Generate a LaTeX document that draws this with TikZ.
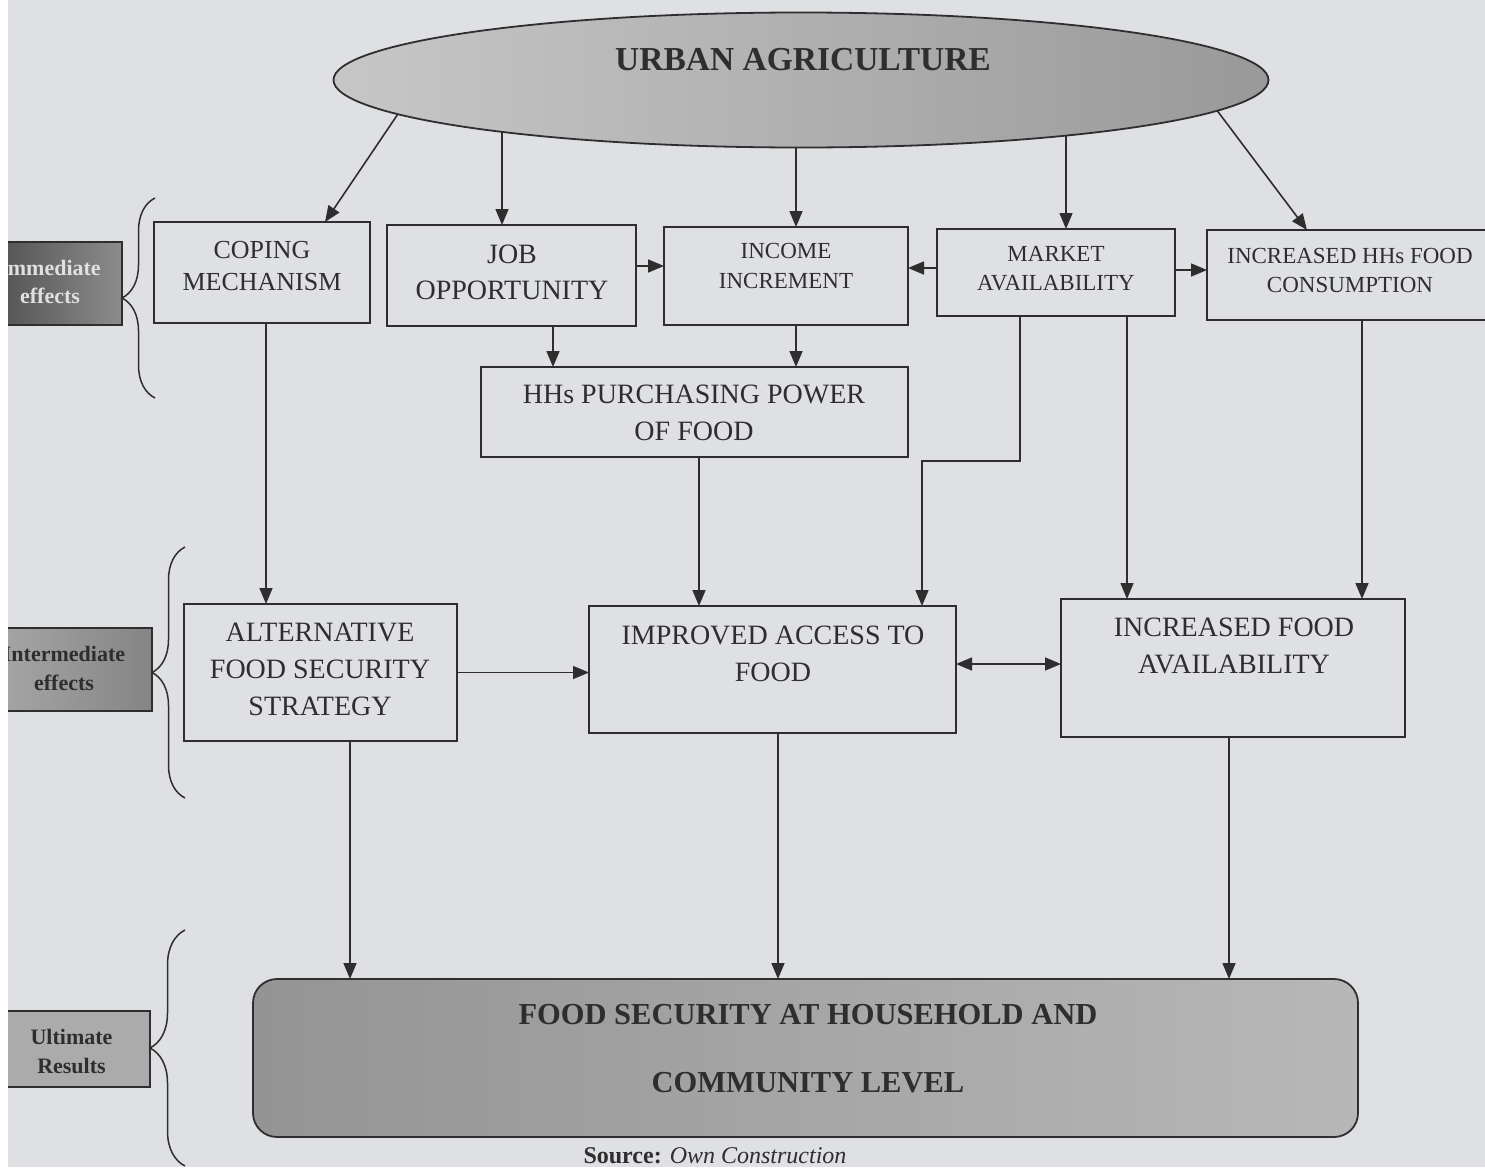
\documentclass[tikz,border=0pt]{standalone}
\usepackage{fontspec}
\setmainfont{Liberation Serif}
\usetikzlibrary{arrows.meta,decorations.pathreplacing,shapes.geometric,calc}
\definecolor{bg}{HTML}{DFE0E4}
\definecolor{ink}{HTML}{2E2E2E}
\newcommand{\fsz}[2]{\fontsize{#1}{#2}\selectfont}
\tikzset{
 box/.style={draw=ink, line width=1.6pt, rectangle, inner sep=0pt, outer sep=0pt},
 txt/.style={text=ink, align=center, inner sep=0pt},
 arr/.style={draw=ink, line width=1.6pt, -{Triangle[length=16pt,width=13pt]}},
 dbl/.style={draw=ink, line width=1.6pt, {Triangle[length=16pt,width=13pt]}-{Triangle[length=16pt,width=13pt]}},
 brc/.style={draw=ink, line width=1.5pt, decorate, decoration={brace, amplitude=#1}},
 lab/.style={draw=ink, line width=1.4pt, inner sep=0pt, outer sep=0pt},
}
\begin{document}
\begin{tikzpicture}[x=1pt,y=-1pt]
\useasboundingbox (0,0) rectangle (1485,1167);
\fill[white] (0,0) rectangle (1485,1167);
\fill[bg] (8,0) rectangle (1485,1167);

% top ellipse
\node[ellipse, draw=ink, line width=1.8pt, minimum width=935pt, minimum height=135pt,
      inner sep=0pt, outer sep=0pt, left color=black!22, right color=black!40] (ua) at (801,80) {};
\node[txt, font=\fsz{33.5}{40}\bfseries] (uat) at (803,60) {URBAN AGRICULTURE};

% immediate row
\node[box, minimum width=216pt, minimum height=101pt] (coping) at (262,272.5) {};
\node[txt, font=\fsz{26}{32}] (copingt) at (262,266) {COPING\\MECHANISM};
\node[box, minimum width=249pt, minimum height=101pt] (job) at (511.5,275.5) {};
\node[txt, font=\fsz{28}{36}] (jobt) at (512,272) {JOB\\OPPORTUNITY};
\node[box, minimum width=244pt, minimum height=98pt] (income) at (786,276) {};
\node[txt, font=\fsz{23}{30}] (incomet) at (786,266) {INCOME\\INCREMENT};
\node[box, minimum width=238pt, minimum height=87pt] (market) at (1056,272.5) {};
\node[txt, font=\fsz{23}{29}] (markett) at (1056,268.5) {MARKET\\AVAILABILITY};
\begin{scope}
\clip (0,0) rectangle (1485,1167);
\node[box, minimum width=288pt, minimum height=90pt] (hhcons) at (1351,275) {};
\end{scope}
\node[txt, font=\fsz{23}{29}] (hhconst) at (1350,270.5) {INCREASED HHs FOOD\\CONSUMPTION};
\node[box, minimum width=427pt, minimum height=90pt] (hhpp) at (694.5,412) {};
\node[txt, font=\fsz{28}{37}] (hhppt) at (694,412.5) {HHs PURCHASING POWER\\OF FOOD};

% intermediate row
\node[box, minimum width=273pt, minimum height=137pt] (alt) at (320.5,672.5) {};
\node[txt, font=\fsz{28}{37}] (altt) at (320,669) {ALTERNATIVE\\FOOD SECURITY\\STRATEGY};
\node[box, minimum width=367pt, minimum height=127pt] (imp) at (772.5,669.5) {};
\node[txt, font=\fsz{28}{37}] (impt) at (773,653.5) {IMPROVED ACCESS TO\\FOOD};
\node[box, minimum width=344pt, minimum height=138pt] (ifa) at (1233,668) {};
\node[txt, font=\fsz{28}{37}] (ifat) at (1234,645.5) {INCREASED FOOD\\AVAILABILITY};

% ultimate result
\node[draw=ink, line width=1.8pt, rounded corners=24pt, minimum width=1105pt, minimum height=158pt,
      inner sep=0pt, outer sep=0pt, left color=black!42, right color=black!28] (fs) at (805.5,1058) {};
\node[txt, font=\fsz{30.5}{68}\bfseries] (fst) at (808,1049) {FOOD SECURITY AT HOUSEHOLD AND\\COMMUNITY LEVEL};

% side labels
\begin{scope}
\clip (8,0) rectangle (1485,1167);
\node[lab, minimum width=148pt, minimum height=83pt, left color=black!72, right color=black!45] (imm) at (48,283.5) {};
\node[lab, minimum width=178pt, minimum height=83pt, left color=black!33, right color=black!48] (inter) at (63,669.5) {};
\node[lab, minimum width=157pt, minimum height=76pt, fill=black!33] (ult) at (71.5,1049) {};
\node[txt, text=black!12, font=\fsz{22}{28}\bfseries] (immt) at (50,282) {Immediate\\effects};
\node[txt, font=\fsz{22}{29}\bfseries] (intert) at (64,668.5) {Intermediate\\effects};
\node[txt, font=\fsz{22}{29}\bfseries] (ultt) at (71.5,1051.5) {Ultimate\\Results};
\end{scope}

% braces
\draw[brc=33pt] (155,398) -- (155,198);
\draw[brc=33pt] (185,798) -- (185,547);
\draw[brc=35pt] (185,1166) -- (185,930);

% points on the lower rim of the ellipse
\coordinate (uc) at ($(ua.center)+(-403,33.9)$);
\coordinate (uj) at ($(ua.center)+(-299,51.5)$);
\coordinate (ui) at ($(ua.center)+(-5,67)$);
\coordinate (um) at ($(ua.center)+(265,55.2)$);
\coordinate (uh) at ($(ua.center)+(416,30.4)$);

% arrows from urban agriculture
\draw[arr] (uc) -- ([xshift=63pt]coping.north);
\draw[arr] (uj) -- (uj |- job.north);
\draw[arr] (ui) -- (ui |- income.north);
\draw[arr] (um) -- (um |- market.north);
\draw[arr] (uh) -- ([xshift=-44pt]hhcons.north);

% horizontal links in top row
\draw[arr] ([yshift=9.5pt]job.east) -- ([yshift=9.5pt]job.east -| income.west);
\draw[arr] ([yshift=4.5pt]market.west) -- ([yshift=4.5pt]market.west -| income.east);
\draw[arr] ([yshift=2.5pt]market.east) -- ([yshift=2.5pt]market.east -| hhcons.west);

% to purchasing power
\draw[arr] ([xshift=41.5pt]job.south) -- ([xshift=41.5pt]job.south |- hhpp.north);
\draw[arr] ([xshift=10pt]income.south) -- ([xshift=10pt]income.south |- hhpp.north);

% to intermediate row
\draw[arr] ([xshift=4pt]coping.south) -- ([xshift=4pt]coping.south |- alt.north);
\draw[arr] ([xshift=4.5pt]hhpp.south) -- ([xshift=4.5pt]hhpp.south |- imp.north);
\coordinate (elb) at (922,461);
\draw[arr] ([xshift=-36pt]market.south) |- (elb) -- (elb |- imp.north);
\draw[arr] ([xshift=71pt]market.south) -- ([xshift=71pt]market.south |- ifa.north);
\draw[arr] ([xshift=11pt]hhcons.south) -- ([xshift=11pt]hhcons.south |- ifa.north);

% intermediate links
\draw[arr] (alt.east) -- (alt.east -| imp.west);
\draw[dbl] ([yshift=5.5pt]imp.east) -- ([yshift=5.5pt]imp.east -| ifa.west);

% to final result
\draw[arr] ([xshift=29.5pt]alt.south) -- ([xshift=29.5pt]alt.south |- fs.north);
\draw[arr] ([xshift=5.5pt]imp.south) -- ([xshift=5.5pt]imp.south |- fs.north);
\draw[arr] ([xshift=-4pt]ifa.south) -- ([xshift=-4pt]ifa.south |- fs.north);

% source line
\node[txt, anchor=base, font=\fsz{24}{30}] (src) at (715,1163) {\textbf{Source:} \textit{Own Construction}};
\end{tikzpicture}
\end{document}
